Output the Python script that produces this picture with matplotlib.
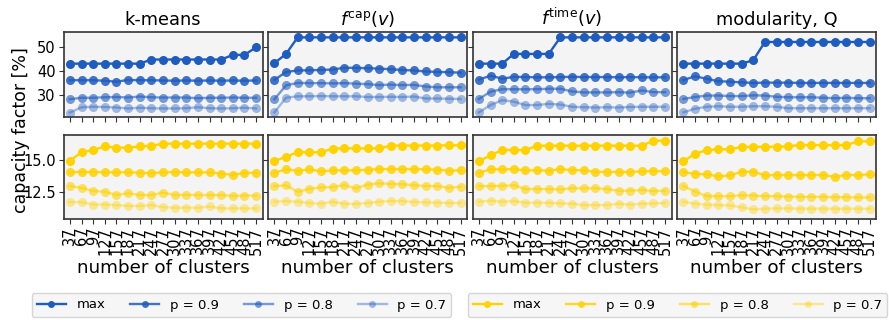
import matplotlib
matplotlib.use("Agg")
import matplotlib.pyplot as plt
from matplotlib.lines import Line2D

clusters = [37, 67, 97, 127, 157, 187, 217, 247, 277, 307, 337, 367, 397, 427, 457, 487, 517]
methods = ["k-means", r"$f^{\mathrm{cap}}(v)$", r"$f^{\mathrm{time}}(v)$", "modularity, Q"]
levels = ["max", "p = 0.9", "p = 0.8", "p = 0.7"]

# top row: series one (blue)
solar = {
    "k-means": [
        [43.0, 43.0, 43.0, 43.0, 43.0, 43.0, 43.0, 44.7, 44.7, 44.7, 44.7, 44.7, 44.7, 44.7, 46.6, 46.6, 49.7],
        [36.2, 36.2, 36.2, 36.0, 35.6, 36.3, 36.2, 36.2, 36.1, 36.0, 36.1, 36.0, 36.1, 36.0, 36.1, 36.0, 36.1],
        [28.4, 29.0, 29.0, 29.2, 29.3, 29.1, 29.5, 29.2, 29.1, 29.1, 29.1, 28.8, 29.0, 29.0, 29.1, 29.0, 29.0],
        [22.9, 25.1, 25.3, 25.2, 25.0, 24.6, 24.9, 24.7, 24.6, 24.6, 24.7, 25.1, 24.7, 24.6, 24.7, 24.9, 24.6],
    ],
    "fcap": [
        [43.2, 47.0, 53.8, 53.8, 53.8, 53.8, 53.8, 53.8, 53.8, 53.8, 53.8, 53.8, 53.8, 53.8, 53.8, 53.8, 53.8],
        [36.3, 39.6, 40.2, 40.3, 40.4, 40.6, 41.3, 41.3, 41.1, 41.0, 40.7, 40.4, 40.2, 39.8, 39.6, 39.5, 39.3],
        [28.4, 34.1, 35.1, 35.0, 35.0, 34.9, 35.0, 34.8, 34.6, 34.2, 34.4, 34.2, 34.3, 33.6, 33.3, 33.3, 33.3],
        [23.0, 29.0, 29.6, 29.6, 29.7, 29.6, 29.6, 29.6, 29.3, 29.3, 29.4, 29.3, 29.5, 28.7, 28.7, 28.6, 28.5],
    ],
    "ftime": [
        [43.0, 43.0, 43.0, 47.0, 47.0, 47.0, 47.0, 53.8, 53.8, 53.8, 53.8, 53.8, 53.8, 53.8, 53.8, 53.8, 53.8],
        [36.4, 38.1, 36.8, 37.6, 37.5, 37.4, 37.4, 37.5, 37.6, 37.5, 37.5, 37.5, 37.4, 37.5, 37.4, 37.4, 37.4],
        [28.5, 31.5, 32.5, 32.5, 32.5, 32.5, 32.7, 32.7, 31.6, 31.2, 31.2, 31.2, 31.3, 31.1, 32.0, 31.3, 31.3],
        [23.0, 26.0, 28.0, 27.4, 26.0, 26.0, 26.5, 26.2, 25.3, 25.1, 25.0, 25.1, 25.0, 25.2, 25.3, 25.3, 25.3],
    ],
    "modularity": [
        [43.0, 43.0, 43.0, 43.0, 43.0, 43.0, 44.4, 51.9, 51.9, 51.9, 51.9, 51.9, 51.9, 51.9, 51.9, 51.9, 51.9],
        [36.3, 37.8, 36.8, 35.8, 35.6, 35.3, 35.1, 35.2, 35.2, 35.2, 35.1, 35.1, 35.1, 35.1, 35.1, 35.1, 35.1],
        [28.5, 29.3, 29.9, 29.9, 29.7, 29.7, 30.0, 29.9, 29.4, 29.2, 29.2, 29.2, 29.0, 28.8, 29.0, 28.8, 28.8],
        [23.0, 24.5, 25.3, 25.5, 25.3, 25.3, 25.5, 25.5, 25.3, 24.7, 24.7, 24.7, 24.7, 24.7, 24.7, 24.7, 24.7],
    ],
}

# bottom row: series two (yellow)
wind = {
    "k-means": [
        [14.95, 15.60, 15.78, 16.06, 15.96, 15.96, 16.06, 16.10, 16.27, 16.27, 16.27, 16.27, 16.27, 16.27, 16.27, 16.27, 16.27],
        [14.05, 14.08, 14.07, 14.05, 14.05, 14.05, 14.02, 13.98, 14.05, 14.06, 14.05, 14.04, 14.05, 13.95, 13.85, 14.00, 14.02],
        [12.98, 12.85, 12.60, 12.55, 12.29, 12.42, 12.29, 12.29, 12.47, 12.30, 12.30, 12.30, 12.28, 12.28, 12.22, 12.25, 12.25],
        [11.74, 11.74, 11.55, 11.55, 11.50, 11.45, 11.45, 11.50, 11.35, 11.30, 11.32, 11.30, 11.40, 11.25, 11.25, 11.25, 11.25],
    ],
    "fcap": [
        [14.92, 15.26, 15.60, 15.60, 15.60, 15.88, 15.90, 15.90, 15.90, 15.90, 16.12, 16.12, 16.12, 16.12, 16.12, 16.14, 16.14],
        [14.02, 14.28, 14.15, 14.28, 14.12, 14.20, 14.20, 14.20, 14.25, 14.30, 14.30, 14.30, 14.30, 14.28, 14.25, 14.18, 14.20],
        [12.98, 13.03, 12.54, 12.77, 12.88, 12.90, 13.05, 12.80, 13.10, 13.20, 13.15, 13.13, 13.05, 12.98, 12.98, 12.85, 12.93],
        [11.77, 11.82, 11.77, 11.67, 11.62, 11.77, 11.62, 11.60, 11.67, 11.77, 11.82, 11.82, 11.75, 11.72, 11.70, 11.67, 11.67],
    ],
    "ftime": [
        [14.92, 15.36, 15.78, 15.78, 15.78, 16.11, 16.11, 16.11, 16.11, 16.11, 16.11, 16.11, 16.11, 16.11, 16.11, 16.50, 16.50],
        [14.02, 14.28, 14.28, 14.30, 14.20, 14.20, 14.18, 14.30, 14.22, 14.20, 14.08, 14.08, 14.08, 14.08, 14.12, 14.15, 14.12],
        [12.98, 12.98, 13.00, 13.05, 12.75, 12.75, 12.75, 12.72, 12.82, 12.80, 12.82, 12.75, 12.62, 12.62, 12.68, 12.60, 12.62],
        [11.77, 11.85, 11.77, 11.82, 11.69, 11.69, 11.69, 11.64, 11.62, 11.51, 11.51, 11.51, 11.62, 11.54, 11.62, 11.64, 11.67],
    ],
    "modularity": [
        [14.92, 15.47, 15.78, 15.83, 15.83, 16.01, 16.03, 16.03, 16.03, 16.06, 16.16, 16.16, 16.16, 16.16, 16.16, 16.45, 16.45],
        [14.05, 13.94, 13.89, 13.74, 13.81, 14.10, 14.10, 13.81, 13.84, 13.84, 13.84, 13.84, 13.84, 13.71, 13.84, 13.84, 13.89],
        [12.98, 12.56, 12.20, 12.20, 12.20, 12.27, 12.25, 12.20, 12.20, 12.17, 12.15, 12.15, 12.15, 12.12, 12.12, 12.10, 12.10],
        [11.77, 11.62, 11.54, 11.50, 11.49, 11.33, 11.18, 11.23, 11.25, 11.25, 11.23, 11.23, 11.23, 11.23, 11.23, 11.23, 11.23],
    ],
}

keys = ["k-means", "fcap", "ftime", "modularity"]
blue = "#1f5cc0"
gold = "#ffd200"
alphas = [1.0, 0.85, 0.6, 0.4]

fig = plt.figure(figsize=(8.89, 3.2), dpi=100)
W, H = 889.0, 320.0
lefts = [63.5, 268.0, 472.5, 677.0]
width = 199.0
rows = [(32.0, 117.0), (135.0, 219.0)]

axes = [[None] * 4 for _ in range(2)]
for r, (top, bot) in enumerate(rows):
    for c, lx in enumerate(lefts):
        ax = fig.add_axes([lx / W, 1 - bot / H, width / W, (bot - top) / H])
        axes[r][c] = ax

xpos = list(range(len(clusters)))
for c, key in enumerate(keys):
    for r, (data, col) in enumerate([(solar, blue), (wind, gold)]):
        ax = axes[r][c]
        ax.set_facecolor("#f4f4f4")
        for s, a in zip(data[key], alphas):
            ax.plot(xpos, s, "-o", color=col, alpha=a, lw=1.7, ms=6.5,
                    markeredgewidth=0)
        for sp in ax.spines.values():
            sp.set_color("#333333")
            sp.set_linewidth(1.2)
        ax.set_xlim(-0.55, len(clusters) - 0.45)
        ax.set_xticks(xpos)
        ax.tick_params(axis="both", labelsize=10.5, length=3.5, width=0.8,
                       color="#333333", pad=2)
        if r == 0:
            ax.set_ylim(21.1, 56.0)
            ax.set_yticks([30, 40, 50])
            ax.set_xticklabels([])
            ax.set_title(methods[c], fontsize=12.8, pad=5)
        else:
            ax.set_ylim(10.43, 16.94)
            ax.set_yticks([12.5, 15.0])
            ax.set_yticklabels(["12.5", "15.0"])
            ax.set_xticklabels([str(v) for v in clusters], rotation=90,
                               fontsize=10.5)
            ax.set_xlabel("number of clusters", fontsize=13.2, labelpad=3)
        if c > 0:
            ax.set_yticklabels([])

fig.text(21 / W, 1 - 130 / H, "capacity factor [%]", rotation=90,
         ha="center", va="center", fontsize=12.5)

def handles(col):
    return [Line2D([0], [0], color=col, alpha=a, lw=1.7, marker="o", ms=5,
                   markeredgewidth=0) for a in alphas]

leg_kw = dict(ncol=4, fontsize=9.5, frameon=True, fancybox=True,
              facecolor="#f4f4f4", edgecolor="#cccccc", handlelength=2.2,
              handletextpad=0.8, columnspacing=1.9, borderpad=0.4)
l1 = fig.legend(handles(blue), levels, loc="center",
                bbox_to_anchor=(241.5 / W, 1 - 305 / H), **leg_kw)
l2 = fig.legend(handles(gold), levels, loc="center",
                bbox_to_anchor=(677.5 / W, 1 - 305 / H), **leg_kw)

fig.savefig("out.png", dpi=100)
